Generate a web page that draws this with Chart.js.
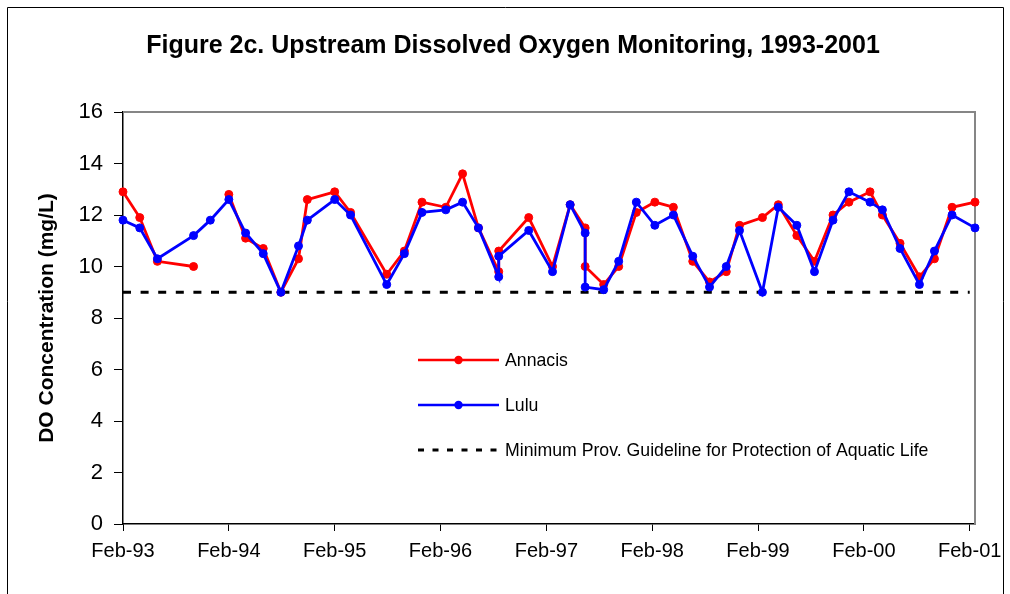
<!DOCTYPE html>
<html>
<head>
<meta charset="utf-8">
<script src="https://cdn.jsdelivr.net/npm/chart.js@4.4.1/dist/chart.umd.min.js"></script>
<style>
  html, body { margin: 0; padding: 0; background: #fff; }
  #wrap { position: relative; width: 1010px; height: 594px; }
  canvas { display: block; }
</style>
</head>
<body>
<div id="wrap"><canvas id="c" width="1010" height="594"></canvas></div>
<script>
// Sample times, in months after Feb-1993
const months = [0, 1.9, 3.9, 8.0, 9.9, 12.0, 13.9, 15.9, 17.9, 19.9,
  20.9, 24.0, 25.8, 29.9, 31.9, 33.9, 36.6, 38.5, 40.3, 42.6,
  42.6, 46.0, 48.7, 50.7, 52.4, 52.4, 54.5, 56.2, 58.2, 60.3,
  62.4, 64.6, 66.5, 68.4, 69.9, 72.5, 74.3, 76.4, 78.4, 80.5,
  82.3, 84.7, 86.1, 88.1, 90.3, 92.0, 94.0, 96.6];
// DO concentration (mg/L)
const annacis = [12.9, 11.9, 10.2, 10.0, null, 12.8, 11.1, 10.7, 9.0, 10.3,
  12.6, 12.9, 12.1, 9.7, 10.6, 12.5, 12.3, 13.6, 11.5, 9.8,
  10.6, 11.9, 10.0, 12.4, 11.5, 10.0, 9.3, 10.0, 12.1, 12.5,
  12.3, 10.2, 9.4, 9.8, 11.6, 11.9, 12.4, 11.2, 10.2, 12.0,
  12.5, 12.9, 12.0, 10.9, 9.6, 10.3, 12.3, 12.5];
const lulu = [11.8, 11.5, 10.3, 11.2, 11.8, 12.6, 11.3, 10.5, 9.0, 10.8,
  11.8, 12.6, 12.0, 9.3, 10.5, 12.1, 12.2, 12.5, 11.5, 9.6,
  10.4, 11.4, 9.8, 12.4, 11.3, 9.2, 9.1, 10.2, 12.5, 11.6,
  12.0, 10.4, 9.2, 10.0, 11.4, 9.0, 12.3, 11.6, 9.8, 11.8,
  12.9, 12.5, 12.2, 10.7, 9.3, 10.6, 12.0, 11.5];
const guidelineValue = 9;
const guidelineSpan = [0, 96];
const xTickValues = [0, 12, 24, 36, 48, 60, 72, 84, 96];
const xTickLabels = ['Feb-93', 'Feb-94', 'Feb-95', 'Feb-96', 'Feb-97', 'Feb-98', 'Feb-99', 'Feb-00', 'Feb-01'];
const yTicks = [0, 2, 4, 6, 8, 10, 12, 14, 16];
const seriesNames = ['Annacis', 'Lulu', 'Minimum Prov. Guideline for Protection of Aquatic Life'];
const titleText = 'Figure 2c. Upstream Dissolved Oxygen Monitoring, 1993-2001';
const yTitle = 'DO Concentration (mg/L)';

const FONT = "'Liberation Sans', Arial, Helvetica, sans-serif";
const RED = '#FF0000', BLUE = '#0000FF';

const decorPlugin = {
  id: 'decor',
  beforeDatasetsDraw(chart) {
    const { ctx, chartArea: a } = chart;
    ctx.save();
    ctx.strokeStyle = '#868686';
    ctx.lineWidth = 2;
    ctx.beginPath();
    ctx.moveTo(a.left, a.top);
    ctx.lineTo(a.right, a.top);
    ctx.lineTo(a.right, a.bottom);
    ctx.stroke();
    ctx.restore();
  },
  afterDraw(chart) {
    const { ctx } = chart;
    ctx.save();
    // outer frame
    ctx.strokeStyle = '#000';
    ctx.lineWidth = 1;
    ctx.beginPath();
    ctx.moveTo(7.5, 600);
    ctx.lineTo(7.5, 7.5);
    ctx.lineTo(1003.5, 7.5);
    ctx.lineTo(1003.5, 600);
    ctx.stroke();
    // title
    ctx.fillStyle = '#000';
    ctx.font = "bold 25px " + FONT;
    ctx.textAlign = 'center';
    ctx.textBaseline = 'middle';
    ctx.fillText(titleText, 513, 46);
    // legend
    const lx0 = 418, lx1 = 499, tx = 505;
    const rows = [360, 405, 450];
    ctx.font = "17.7px " + FONT;
    ctx.textAlign = 'left';
    ctx.textBaseline = 'middle';
    [RED, BLUE].forEach((col, i) => {
      const y = rows[i];
      ctx.strokeStyle = col;
      ctx.lineWidth = 2.5;
      ctx.beginPath();
      ctx.moveTo(lx0, y); ctx.lineTo(lx1, y); ctx.stroke();
      ctx.fillStyle = col;
      ctx.beginPath();
      ctx.arc((lx0 + lx1) / 2, y, 4.2, 0, Math.PI * 2);
      ctx.fill();
      ctx.fillStyle = '#000';
      ctx.fillText(seriesNames[i], tx, y + 1);
    });
    ctx.strokeStyle = '#000';
    ctx.lineWidth = 3;
    ctx.setLineDash([6, 8.5]);
    ctx.beginPath();
    ctx.moveTo(lx0, rows[2]); ctx.lineTo(lx1 + 2, rows[2]); ctx.stroke();
    ctx.setLineDash([]);
    ctx.fillStyle = '#000';
    ctx.fillText(seriesNames[2], tx, rows[2] + 1);
    ctx.restore();
  }
};

const toPts = (vals) => months.map((m, i) => ({ x: m, y: vals[i] }));

new Chart(document.getElementById('c'), {
  type: 'line',
  data: {
    datasets: [
      {
        label: seriesNames[1],
        data: toPts(lulu),
        borderColor: BLUE, backgroundColor: BLUE,
        pointBackgroundColor: BLUE, pointBorderColor: BLUE,
        borderWidth: 2.8, pointRadius: 4, pointBorderWidth: 1,
        tension: 0, spanGaps: false, clip: false, order: 1
      },
      {
        label: seriesNames[0],
        data: toPts(annacis),
        borderColor: RED, backgroundColor: RED,
        pointBackgroundColor: RED, pointBorderColor: RED,
        borderWidth: 2.8, pointRadius: 4, pointBorderWidth: 1,
        tension: 0, spanGaps: false, clip: false, order: 2
      },
      {
        label: seriesNames[2],
        data: guidelineSpan.map(m => ({ x: m, y: guidelineValue })),
        borderColor: '#000', borderWidth: 3, borderDash: [8, 9.6],
        pointRadius: 0, tension: 0, clip: false, order: 3
      }
    ]
  },
  options: {
    responsive: false,
    animation: false,
    devicePixelRatio: 1,
    layout: { padding: { top: 112, right: 35, bottom: 0, left: 0 } },
    plugins: {
      legend: { display: false },
      title: { display: false },
      tooltip: { enabled: false }
    },
    scales: {
      x: {
        type: 'linear',
        min: 0, max: 96.6,
        afterBuildTicks(scale) { scale.ticks = xTickValues.map(v => ({ value: v })); },
        afterFit(scale) { scale.height = 70; },
        ticks: {
          autoSkip: false, maxRotation: 0,
          color: '#000', font: { family: FONT, size: 20 }, padding: 8,
          callback: (v) => { const i = xTickValues.indexOf(v); return i >= 0 ? xTickLabels[i] : ''; }
        },
        grid: { drawOnChartArea: false, drawTicks: true, tickLength: 7, color: '#000', lineWidth: 1 },
        border: { display: true, color: '#000', width: 1.5 }
      },
      y: {
        min: 0, max: 16,
        afterBuildTicks(scale) { scale.ticks = yTicks.map(v => ({ value: v })); },
        afterFit(scale) { scale.width = 123; },
        ticks: { color: '#000', font: { family: FONT, size: 22 }, padding: 11 },
        grid: { drawOnChartArea: false, drawTicks: true, tickLength: 9, color: '#000', lineWidth: 1 },
        border: { display: true, color: '#000', width: 1.5 },
        title: {
          display: true, text: yTitle, color: '#000',
          font: { family: FONT, size: 21, weight: 'bold' },
          padding: { top: 35, bottom: 0 }
        }
      }
    }
  },
  plugins: [decorPlugin]
});
</script>
</body>
</html>
